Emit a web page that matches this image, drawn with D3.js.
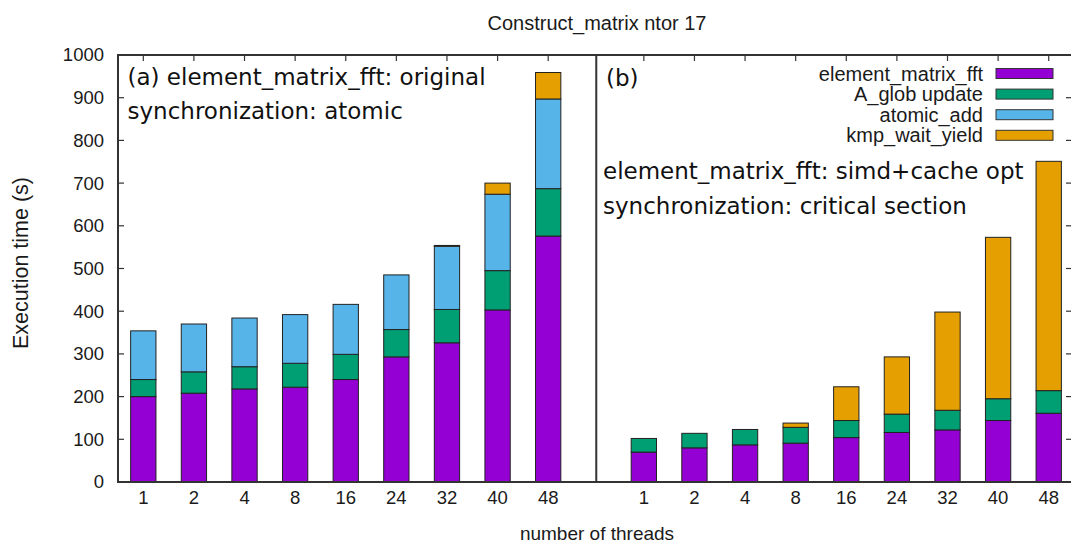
<!DOCTYPE html>
<html>
<head>
<meta charset="utf-8">
<script src="https://cdn.jsdelivr.net/npm/d3@7"></script>
<style>
  html, body { margin: 0; padding: 0; background: #fff; }
  svg { display: block; }
</style>
</head>
<body>
<svg id="chart" width="1071" height="543"></svg>
<script>
// Thread counts (x categories, same for both panels)
const threads = ["1", "2", "4", "8", "16", "24", "32", "40", "48"];

// Series keys and legend labels
const seriesKeys = ["fft", "aglob", "atomic", "kmp"];
const seriesLabels = ["element_matrix_fft", "A_glob update", "atomic_add", "kmp_wait_yield"];
const seriesColors = ["#9400d3", "#009e73", "#56b4e9", "#e69f00"];

// Panel (a): original kernel, atomic synchronization (seconds)
const fftA    = [200, 208, 218, 222, 240, 293, 326, 403, 576];
const aglobA  = [ 40,  50,  52,  56,  59,  64,  78,  92, 111];
const atomicA = [114, 112, 114, 114, 117, 128, 148, 179, 210];
const kmpA    = [  0,   0,   0,   0,   0,   0,   2,  26,  62];

// Panel (b): simd+cache optimised kernel, critical section (seconds)
const fftB    = [ 70,  80,  87,  91, 104, 116, 122, 144, 161];
const aglobB  = [ 32,  34,  36,  37,  40,  43,  46,  51,  53];
const atomicB = [  0,   0,   0,   0,   0,   0,   0,   0,   0];
const kmpB    = [  0,   0,   0,  10,  79, 134, 230, 378, 537];

// Y axis ticks
const yTicks = [0, 100, 200, 300, 400, 500, 600, 700, 800, 900, 1000];

// Histogram group start positions (in slot units)
const groupStart = [0, 9.89];

const svg = d3.select("#chart");
const plot = { left: 118, right: 1072, top: 55, bottom: 482 };
const axisColor = "#333";
const textColor = "#1a1a1a";
const sansFont = "'Liberation Sans', Arial, sans-serif";
const annFont = "'DejaVu Sans', sans-serif";

const x = d3.scaleLinear().domain([-0.5, 18.35]).range([plot.left, plot.right]);
const y = d3.scaleLinear().domain([0, 1000]).range([plot.bottom, plot.top]);
const barHalf = 0.25;

function rows(fft, aglob, atomic, kmp, g) {
  return threads.map((t, i) => ({
    t, pos: groupStart[g] + i,
    fft: fft[i], aglob: aglob[i], atomic: atomic[i], kmp: kmp[i]
  }));
}
const groups = [
  rows(fftA, aglobA, atomicA, kmpA, 0),
  rows(fftB, aglobB, atomicB, kmpB, 1)
];
const stack = d3.stack().keys(seriesKeys);

// Axis ticks drawn below the bars
const tickLen = 6;
const allRows = groups.flat();
svg.append("g").selectAll("line.bt").data(allRows).join("line")
  .attr("x1", d => x(d.pos)).attr("x2", d => x(d.pos))
  .attr("y1", plot.bottom).attr("y2", plot.bottom - tickLen)
  .attr("stroke", axisColor).attr("stroke-width", 1.2);

// Stacked bars
groups.forEach(data => {
  const layers = stack(data);
  const g = svg.append("g");
  layers.forEach((layer, li) => {
    g.append("g").selectAll("rect")
      .data(layer.filter(s => s[1] - s[0] > 0))
      .join("rect")
      .attr("x", s => x(s.data.pos - barHalf))
      .attr("width", s => x(s.data.pos + barHalf) - x(s.data.pos - barHalf))
      .attr("y", s => y(s[1]))
      .attr("height", s => y(s[0]) - y(s[1]))
      .attr("fill", seriesColors[li])
      .attr("stroke", "#222")
      .attr("stroke-width", 1);
  });
});

// Top mirror ticks at each bar
svg.append("g").selectAll("line").data(allRows).join("line")
  .attr("x1", d => x(d.pos)).attr("x2", d => x(d.pos))
  .attr("y1", plot.top).attr("y2", plot.top + tickLen)
  .attr("stroke", axisColor).attr("stroke-width", 1.2);

// Y ticks on left and right borders
const yt = svg.append("g");
yt.selectAll("line.l").data(yTicks).join("line")
  .attr("x1", plot.left).attr("x2", plot.left + tickLen)
  .attr("y1", d => y(d)).attr("y2", d => y(d))
  .attr("stroke", axisColor).attr("stroke-width", 1.2);
yt.selectAll("line.r").data(yTicks).join("line")
  .attr("x1", plot.right).attr("x2", plot.right - tickLen)
  .attr("y1", d => y(d)).attr("y2", d => y(d))
  .attr("stroke", axisColor).attr("stroke-width", 1.2);

// Y tick labels via d3 axis (domain/tick lines hidden)
const yAxis = svg.append("g")
  .attr("transform", `translate(${plot.left},0)`)
  .call(d3.axisLeft(y).tickValues(yTicks).tickFormat(d3.format("d"))
    .tickSize(0).tickPadding(14));
yAxis.select(".domain").remove();
yAxis.selectAll("text")
  .attr("font-family", sansFont).attr("font-size", 18.5).attr("fill", textColor);

// X tick labels
svg.append("g").selectAll("text").data(allRows).join("text")
  .attr("x", d => x(d.pos)).attr("y", 504)
  .attr("text-anchor", "middle")
  .attr("font-family", sansFont).attr("font-size", 18.5).attr("fill", textColor)
  .text(d => d.t);

// Frame: border and panel divider
svg.append("rect")
  .attr("x", plot.left).attr("y", plot.top)
  .attr("width", plot.right - plot.left).attr("height", plot.bottom - plot.top)
  .attr("fill", "none").attr("stroke", axisColor).attr("stroke-width", 2);
const divX = x(8.95);
svg.append("line")
  .attr("x1", divX).attr("x2", divX).attr("y1", plot.top).attr("y2", plot.bottom)
  .attr("stroke", axisColor).attr("stroke-width", 2);

// Titles
svg.append("text").attr("x", 597).attr("y", 30).attr("text-anchor", "middle")
  .attr("font-family", sansFont).attr("font-size", 20).attr("fill", textColor)
  .text("Construct_matrix ntor 17");
svg.append("text").attr("x", 597).attr("y", 540).attr("text-anchor", "middle")
  .attr("font-family", sansFont).attr("font-size", 19).attr("fill", textColor)
  .text("number of threads");
svg.append("text")
  .attr("transform", "translate(28,263) rotate(-90)")
  .attr("text-anchor", "middle")
  .attr("font-family", sansFont).attr("font-size", 21.5).attr("fill", textColor)
  .text("Execution time (s)");

// Panel annotations
const ann = [
  { x: 127.5, y: 85, t: "(a) element_matrix_fft: original" },
  { x: 127.5, y: 119, t: "synchronization: atomic" },
  { x: 606, y: 86, t: "(b)" },
  { x: 603, y: 179, t: "element_matrix_fft: simd+cache opt" },
  { x: 603, y: 214, t: "synchronization: critical section" }
];
svg.append("g").selectAll("text").data(ann).join("text")
  .attr("x", d => d.x).attr("y", d => d.y)
  .attr("font-family", annFont).attr("font-size", 23).attr("fill", "#111")
  .text(d => d.t);

// Legend
const legend = svg.append("g");
seriesLabels.forEach((lab, i) => {
  const cy = 73.5 + i * 20.6;
  legend.append("text").attr("x", 983).attr("y", cy + 7)
    .attr("text-anchor", "end")
    .attr("font-family", sansFont).attr("font-size", 20).attr("fill", textColor)
    .text(lab);
  legend.append("rect").attr("x", 996).attr("y", cy - 5)
    .attr("width", 57).attr("height", 10)
    .attr("fill", seriesColors[i]).attr("stroke", "#333").attr("stroke-width", 1);
});
</script>
</body>
</html>
